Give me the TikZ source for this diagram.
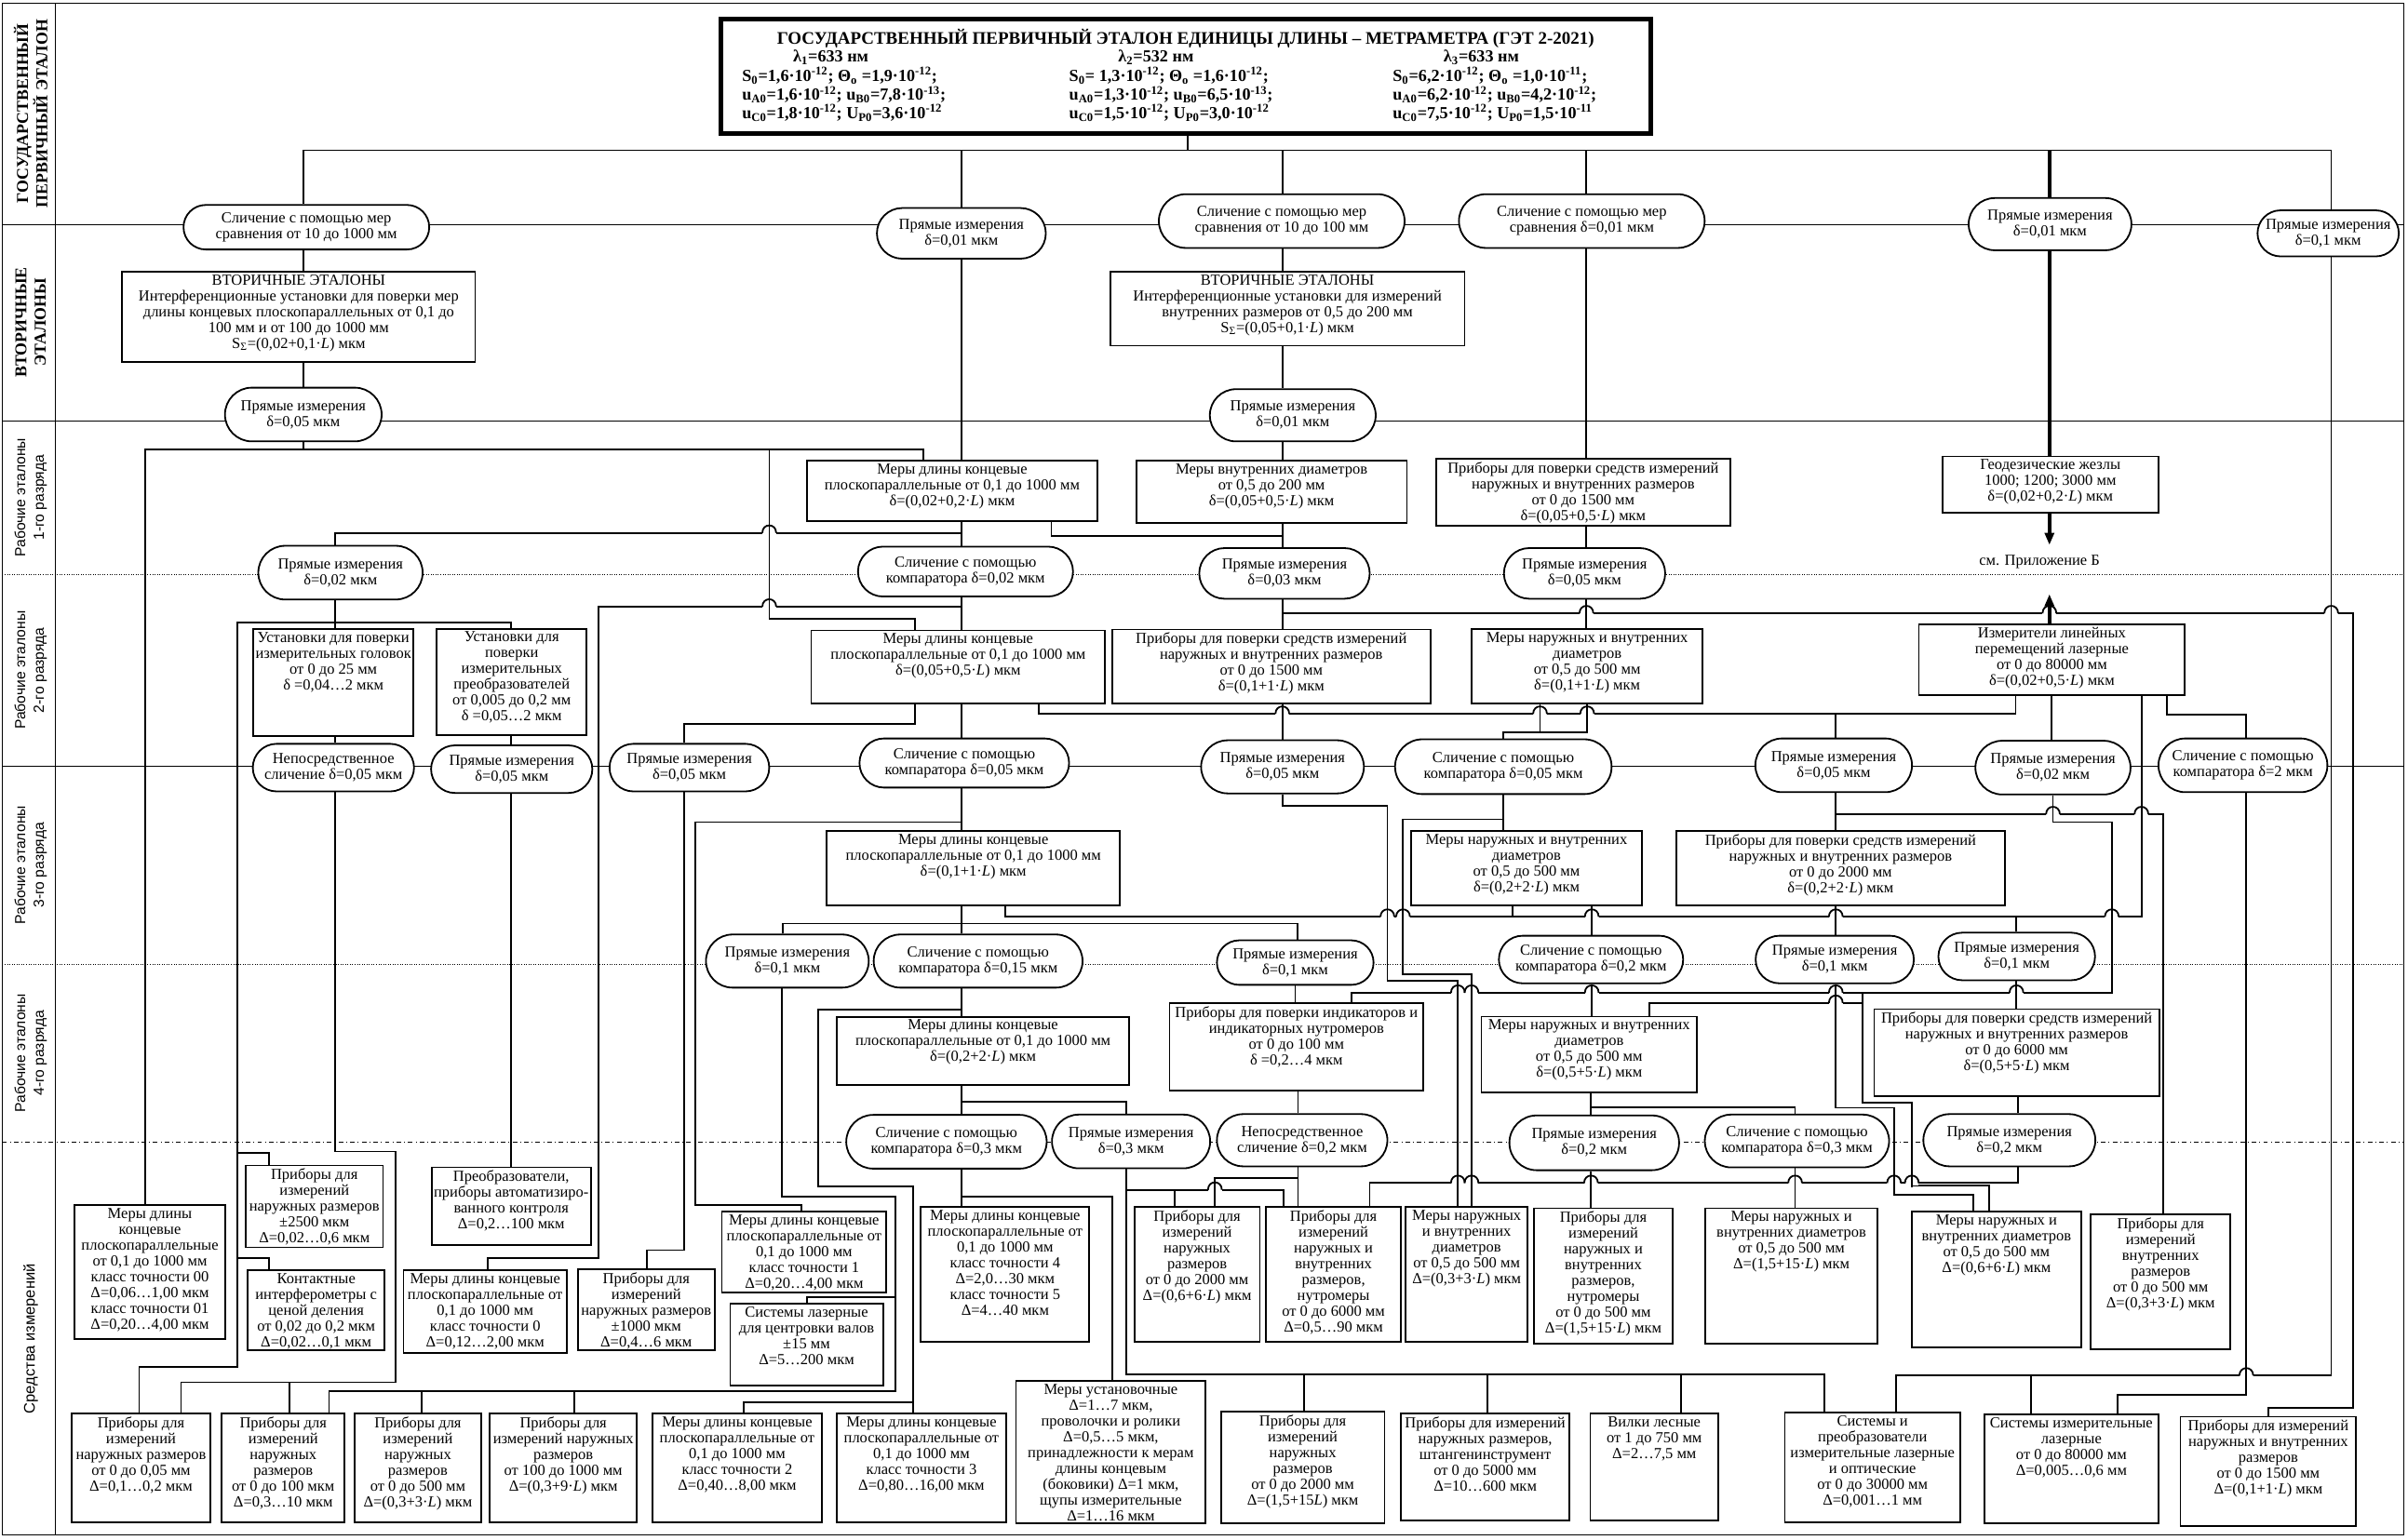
\documentclass[tikz,border=0pt]{standalone}
\usepackage{fontspec}
\setmainfont{Liberation Serif}
\setsansfont{Liberation Sans}
\usetikzlibrary{arrows.meta,shapes.misc,positioning}
\newcommand\fs{\fontsize{10}{10.3}\selectfont}
\newcommand\tp[1]{·10\textsuperscript{#1}}
\newcommand\sbs[1]{\textsubscript{#1}}
\newcommand\iL{\textit{L}}
% box with text on top
\newcommand\bx[6]{%
  \node[box, minimum width=#4pt, minimum height=#5pt] (#1) at (#2,#3) {};
  \node[anchor=north, inner sep=0pt, align=center, font=\fs] (#1-t) at ([yshift=-2.5pt]#1.north) {#6};}
% oval
\newcommand\el[6]{\node[oval, minimum width=#4pt, minimum height=#5pt] (#1) at (#2,#3) {#6};}
% line jump over a crossing
\newcommand\jump[3][conn]{%
  \fill[white] (#2-4.5,#3-1.5) rectangle (#2+4.5,#3+1.5);
  \draw[#1] (#2,#3-2.8) -- (#2,#3+2.8);
  \draw[conn] (#2-4.5,#3) .. controls (#2-4.5,#3-6.5) and (#2+4.5,#3-6.5) .. (#2+4.5,#3);}

\begin{document}
\begin{tikzpicture}[x=1pt,y=-1pt,
  box/.style={draw, line width=1.1pt, fill=white, inner sep=0pt},
  oval/.style={rounded rectangle, draw, line width=1.1pt, fill=white,
    inner sep=0pt, align=center, font=\fs},
  conn/.style={line width=1.1pt},
  thk/.style={line width=2.4pt},
  rowline/.style={line width=0.55pt},
  lbl/.style={rotate=90, align=center}]
  \useasboundingbox (0,0) rectangle (1568,1003);

  % frame and rows
  \draw[line width=0.6pt] (1.5,2) rectangle (1565,1000);
  \draw[line width=0.6pt] (36,2) -- (36,1000);
  \foreach \yy in {146.4,274.3,499} \draw[rowline] (1.5,\yy) -- (1565,\yy);
  \foreach \yy in {374,628} \draw[rowline, densely dotted] (1.5,\yy) -- (1565,\yy);
  \draw[rowline, dash dot] (1.5,744) -- (1565,744);

  \node[lbl, font=\bfseries\fontsize{10.8}{12.5}\selectfont] (L1) at (20,74) {ГОСУДАРСТВЕННЫЙ\\ПЕРВИЧНЫЙ ЭТАЛОН};
  \node[lbl, font=\bfseries\fontsize{10.8}{12.5}\selectfont] (L2) at (20,210) {ВТОРИЧНЫЕ\\ЭТАЛОНЫ};
  \node[lbl, font=\sffamily\fontsize{9.5}{12}\selectfont] (L3) at (20,324) {Рабочие эталоны\\1-го разряда};
  \node[lbl, font=\sffamily\fontsize{9.5}{12}\selectfont] (L4) at (20,436.5) {Рабочие эталоны\\2-го разряда};
  \node[lbl, font=\sffamily\fontsize{9.5}{12}\selectfont] (L5) at (20,563.5) {Рабочие эталоны\\3-го разряда};
  \node[lbl, font=\sffamily\fontsize{9.5}{12}\selectfont] (L6) at (20,686) {Рабочие эталоны\\4-го разряда};
  \node[lbl, font=\sffamily\fontsize{10}{12}\selectfont] (L7) at (20,872) {Средства измерений};

  % state primary standard
  \node[draw, line width=3pt, fill=white, minimum width=605pt, minimum height=74.6pt, inner sep=0pt] (T) at (772.2,49.9) {};
  \begin{scope}[font=\bfseries\fontsize{11}{12}\selectfont]
    \node[anchor=base, font=\bfseries\fontsize{11.5}{12}\selectfont] (T-t) at (772,28.6) {ГОСУДАРСТВЕННЫЙ ПЕРВИЧНЫЙ ЭТАЛОН ЕДИНИЦЫ ДЛИНЫ – МЕТРАМЕТРА (ГЭТ 2-2021)};
    \node[anchor=base] (T-l1) at (541,40.5) {λ\sbs{1}=633 нм};
    \node[anchor=base] (T-l2) at (752.7,40.5) {λ\sbs{2}=532 нм};
    \node[anchor=base] (T-l3) at (964.6,40.5) {λ\sbs{3}=633 нм};
    \node[anchor=base west] (T-a1) at (479.7,53) {S\sbs{0}=1,6\tp{-12}; Θ\sbs{о} =1,9\tp{-12};};
    \node[anchor=base west] (T-b1) at (479.7,65.3) {u\sbs{A0}=1,6\tp{-12}; u\sbs{B0}=7,8\tp{-13};};
    \node[anchor=base west] (T-c1) at (479.7,77.2) {u\sbs{C0}=1,8\tp{-12}; U\sbs{P0}=3,6\tp{-12}};
    \node[anchor=base west] (T-a2) at (692.7,53) {S\sbs{0}= 1,3\tp{-12}; Θ\sbs{о} =1,6\tp{-12};};
    \node[anchor=base west] (T-b2) at (692.7,65.3) {u\sbs{A0}=1,3\tp{-12}; u\sbs{B0}=6,5\tp{-13};};
    \node[anchor=base west] (T-c2) at (692.7,77.2) {u\sbs{C0}=1,5\tp{-12}; U\sbs{P0}=3,0\tp{-12}};
    \node[anchor=base west] (T-a3) at (903.4,53) {S\sbs{0}=6,2\tp{-12}; Θ\sbs{о} =1,0\tp{-11};};
    \node[anchor=base west] (T-b3) at (903.4,65.3) {u\sbs{A0}=6,2\tp{-12}; u\sbs{B0}=4,2\tp{-12};};
    \node[anchor=base west] (T-c3) at (903.4,77.2) {u\sbs{C0}=7,5\tp{-12}; U\sbs{P0}=1,5\tp{-11}};
  \end{scope}

  % ovals
  \el{E1}{199.5}{148}{160}{29}{Сличение с помощью мер\\сравнения от 10 до 1000 мм}
  \el{E2}{626}{152}{110}{33}{Прямые измерения\\δ=0,01 мкм}
  \el{E3}{834.6}{144}{160}{35}{Сличение с помощью мер\\сравнения от 10 до 100 мм}
  \el{E4}{1030}{144}{160}{35}{Сличение с помощью мер\\сравнения δ=0,01 мкм}
  \el{E5}{1334.9}{146}{106}{34}{Прямые измерения\\δ=0,01 мкм}
  \el{E6}{1516}{152}{92}{30}{Прямые измерения\\δ=0,1 мкм}
  \el{E7}{197.5}{270}{102}{35}{Прямые измерения\\δ=0,05 мкм}
  \el{E8}{841.8}{270.5}{108}{34}{Прямые измерения\\δ=0,01 мкм}
  \el{E9}{221.7}{373}{107}{35}{Прямые измерения\\δ=0,02 мкм}
  \el{E10}{628.7}{372.3}{140}{32.5}{Сличение с помощью\\компаратора δ=0,02 мкм}
  \el{E11}{836.4}{373.5}{111}{33}{Прямые  измерения\\δ=0,03 мкм}
  \el{E12}{1031.8}{373.5}{105}{33}{Прямые измерения\\δ=0,05 мкм}
  \el{E13}{217.1}{500}{105}{31}{Непосредственное\\сличение δ=0,05 мкм}
  \el{E14a}{333.2}{501}{105}{31}{Прямые измерения\\δ=0,05 мкм}
  \el{E14b}{448.9}{500}{104}{31}{Прямые измерения\\δ=0,05 мкм}
  \el{E14c}{627.9}{497}{136.5}{32}{Сличение с помощью\\компаратора δ=0,05 мкм}
  \el{E14d}{835.1}{499.5}{106}{34.6}{Прямые измерения\\δ=0,05 мкм}
  \el{E15}{978.9}{499.4}{141}{35.7}{Сличение с помощью\\компаратора δ=0,05 мкм}
  \el{E16}{1194}{498.5}{102}{35}{Прямые измерения\\δ=0,05 мкм}
  \el{E17}{1336.8}{500}{101}{35}{Прямые измерения\\δ=0,02 мкм}
  \el{E18}{1460.5}{498.5}{110}{35}{Сличение с помощью\\компаратора δ=2 мкм}
  \el{E19}{512.7}{626}{106}{34.6}{Прямые измерения\\δ=0,1 мкм}
  \el{E20}{636.9}{626}{136}{34.6}{Сличение с помощью\\компаратора δ=0,15 мкм}
  \el{E21}{843.4}{627}{102}{29}{Прямые измерения\\δ=0,1 мкм}
  \el{E22}{1036}{625}{120}{31}{Сличение с помощью\\компаратора δ=0,2 мкм}
  \el{E23}{1194.7}{625}{103}{31}{Прямые измерения\\δ=0,1 мкм}
  \el{E24}{1313.2}{623}{102}{31}{Прямые измерения\\δ=0,1 мкм}
  \el{E25}{616.3}{743.7}{130.5}{35}{Сличение с помощью\\компаратора δ=0,3 мкм}
  \el{E26}{736.5}{743.5}{103}{35}{Прямые измерения\\δ=0,3 мкм}
  \el{E27}{847.9}{742.7}{111}{34}{Непосредственное\\сличение δ=0,2 мкм}
  \el{E28}{1038.1}{744.4}{110.5}{35.7}{Прямые измерения\\δ=0,2 мкм}
  \el{E29}{1170.1}{743.2}{120}{34.4}{Сличение с помощью\\компаратора δ=0,3 мкм}
  \el{E30}{1308.4}{742.7}{112}{34}{Прямые измерения\\δ=0,2 мкм}

  % standards
  \bx{B1}{194.5}{206.4}{229.8}{59.1}{ВТОРИЧНЫЕ ЭТАЛОНЫ\\Интерференционные установки для поверки мер\\длины концевых плоскопараллельных от 0,1 до\\100 мм и от 100 до 1000 мм\\S\sbs{Σ}=(0,02+0,1·\iL) мкм}
  \bx{B2}{838.3}{201}{230.7}{48.3}{ВТОРИЧНЫЕ ЭТАЛОНЫ\\Интерференционные установки для измерений\\внутренних размеров от 0,5 до 200 мм\\S\sbs{Σ}=(0,05+0,1·\iL) мкм}
  \bx{R1a}{620}{319.6}{188.7}{39.5}{Меры длины концевые\\плоскопараллельные от 0,1 до 1000 мм\\δ=(0,02+0,2·\iL) мкм}
  \bx{R1b}{828}{320.2}{176.2}{40.6}{Меры внутренних диаметров\\от 0,5 до 200 мм\\δ=(0,05+0,5·\iL) мкм}
  \bx{R1c}{1030.9}{320.5}{191.4}{43.5}{Приборы для поверки средств измерений\\наружных и внутренних размеров\\от 0 до 1500 мм\\δ=(0,05+0,5·\iL) мкм}
  \bx{Geo}{1335.1}{315.7}{140.7}{36.8}{Геодезические жезлы\\1000; 1200; 3000 мм\\δ=(0,02+0,2·\iL) мкм}
  \node[font=\fs] (AppB) at (1328,366) {см. Приложение Б};
  \bx{R2a}{217.1}{444.6}{104.1}{69.4}{Установки для поверки\\измерительных головок\\от 0 до 25 мм\\δ =0,04…2 мкм}
  \bx{R2b}{333.2}{444.2}{97.5}{69.4}{Установки для\\поверки\\измерительных\\преобразователей\\от 0,005 до 0,2 мм\\δ =0,05…2 мкм}
  \bx{R2c}{623.9}{434.3}{191.3}{47.4}{Меры длины концевые\\плоскопараллельные от 0,1 до 1000 мм\\δ=(0,05+0,5·\iL) мкм}
  \bx{R2d}{827.8}{434}{207.3}{48}{Приборы для поверки средств измерений\\наружных и внутренних размеров\\от 0 до 1500 мм\\δ=(0,1+1·\iL) мкм}
  \bx{R2e}{1033.5}{434.2}{150.5}{48.5}{Меры наружных и внутренних\\диаметров\\от 0,5 до 500 мм\\δ=(0,1+1·\iL) мкм}
  \bx{R2f}{1336.1}{429.8}{173.3}{46.3}{Измерители линейных\\перемещений лазерные\\от 0 до 80000 мм\\δ=(0,02+0,5·\iL) мкм}
  \bx{R3a}{633.8}{565.5}{190.8}{48.1}{Меры длины концевые\\плоскопараллельные от 0,1 до 1000 мм\\δ=(0,1+1·\iL) мкм}
  \bx{R3b}{994}{565.7}{150.5}{48.5}{Меры наружных и внутренних\\диаметров\\от 0,5 до 500 мм\\δ=(0,2+2·\iL) мкм}
  \bx{R3c}{1198.5}{565.5}{213.9}{48.9}{Приборы для поверки средств измерений\\наружных и внутренних размеров\\от 0 до 2000 мм\\δ=(0,2+2·\iL) мкм}
  \bx{R4a}{640.1}{684.6}{190.6}{44.7}{Меры длины концевые\\плоскопараллельные от 0,1 до 1000 мм\\δ=(0,2+2·\iL) мкм}
  \bx{R4b}{844.2}{681.8}{165.2}{57}{Приборы для поверки индикаторов и\\индикаторных нутромеров\\от 0 до 100 мм\\δ =0,2…4 мкм}
  \bx{R4c}{1034.8}{687}{140.3}{49.6}{Меры наружных и внутренних\\диаметров\\от 0,5 до 500 мм\\δ=(0,5+5·\iL) мкм}
  \bx{R4d}{1313.2}{685.7}{185.6}{56.7}{Приборы для поверки средств измерений\\наружных и внутренних размеров\\от 0 до 6000 мм\\δ=(0,5+5·\iL) мкм}

  % measuring instruments
  \bx{I1}{97.6}{828.5}{98.2}{87.2}{Меры длины\\концевые\\плоскопараллельные\\от 0,1 до 1000 мм\\класс точности 00\\Δ=0,06…1,00 мкм\\класс точности 01\\Δ=0,20…4,00 мкм}
  \bx{I2}{204.7}{785.8}{89.5}{53.4}{Приборы для\\измерений\\наружных размеров\\±2500 мкм\\Δ=0,02…0,6 мкм}
  \bx{I3}{205.9}{853.4}{89.3}{51.9}{Контактные\\интерферометры с\\ценой деления\\от 0,02 до 0,2 мкм\\Δ=0,02…0,1 мкм}
  \bx{I4}{332.9}{785.7}{103.6}{50.6}{Преобразователи,\\приборы автоматизиро-\\ванного контроля\\Δ=0,2…100 мкм}
  \bx{I5}{315.9}{854.4}{106.3}{54}{Меры длины концевые\\плоскопараллельные от\\0,1 до 1000 мм\\класс точности 0\\Δ=0,12…2,00 мкм}
  \bx{I6}{420.8}{853}{88.9}{52.6}{Приборы для\\измерений\\наружных размеров\\±1000 мкм\\Δ=0,4…6 мкм}
  \bx{I7}{523.6}{815.6}{107.2}{52.8}{Меры длины концевые\\плоскопараллельные от\\0,1 до 1000 мм\\класс точности 1\\Δ=0,20…4,00 мкм}
  \bx{I8}{525.2}{875.9}{99.5}{53.4}{Системы лазерные\\для центровки валов\\±15 мм\\Δ=5…200 мкм}
  \bx{I9}{654.5}{829.9}{109.7}{87.8}{Меры длины концевые\\плоскопараллельные от\\0,1 до 1000 мм\\класс точности 4\\Δ=2,0…30 мкм\\класс точности 5\\Δ=4…40 мкм}
  \bx{I10}{779.5}{829.9}{81.8}{87.8}{Приборы для\\измерений\\наружных\\размеров\\от 0 до 2000 мм\\Δ=(0,6+6·\iL) мкм}
  \bx{I11}{868.3}{829.9}{88}{87.8}{Приборы для\\измерений\\наружных и\\внутренних\\размеров,\\нутромеры\\от 0 до 6000 мм\\Δ=0,5…90 мкм}
  \bx{I12}{955}{829.9}{79.4}{87.8}{Меры наружных\\и внутренних\\диаметров\\от 0,5 до 500 мм\\Δ=(0,3+3·\iL) мкм}
  \bx{I13}{1044}{831.2}{90.1}{88.3}{Приборы для\\измерений\\наружных и\\внутренних\\размеров,\\нутромеры\\от 0 до 500 мм\\Δ=(1,5+15·\iL) мкм}
  \bx{I14}{1166.5}{831.2}{112}{88.3}{Меры наружных и\\внутренних диаметров\\от 0,5 до 500 мм\\Δ=(1,5+15·\iL) мкм}
  \bx{I15}{1300}{833.4}{110.1}{88.3}{Меры наружных и\\внутренних диаметров\\от 0,5 до 500 мм\\Δ=(0,6+6·\iL) мкм}
  \bx{I16}{1406.9}{835}{91}{88.1}{Приборы для\\измерений\\внутренних\\размеров\\от 0 до 500 мм\\Δ=(0,3+3·\iL) мкм}
  \bx{J1}{91.8}{956.1}{90.3}{70.8}{Приборы для\\измерений\\наружных размеров\\от 0 до 0,05 мм\\Δ=0,1…0,2 мкм}
  \bx{J2}{184.4}{956.1}{80.1}{70.8}{Приборы для\\измерений\\наружных\\размеров\\от 0 до 100 мкм\\Δ=0,3…10 мкм}
  \bx{J3}{272.1}{956.1}{82.4}{70.8}{Приборы для\\измерений\\наружных\\размеров\\от 0 до 500 мм\\Δ=(0,3+3·\iL) мкм}
  \bx{J4}{366.8}{956.1}{95.8}{70.8}{Приборы для\\измерений наружных\\размеров\\от 100 до 1000 мм\\Δ=(0,3+9·\iL) мкм}
  \bx{J5}{480}{956.1}{110.2}{70.8}{Меры длины концевые\\плоскопараллельные от\\0,1 до 1000 мм\\класс точности 2\\Δ=0,40…8,00 мкм}
  \bx{J6}{600}{956.1}{110.5}{70.8}{Меры длины концевые\\плоскопараллельные от\\0,1 до 1000 мм\\класс точности 3\\Δ=0,80…16,00 мкм}
  \bx{J7}{723.3}{945.8}{123.5}{92.3}{Меры установочные\\Δ=1…7 мкм,\\проволочки  и ролики\\Δ=0,5…5 мкм,\\принадлежности к мерам\\длины концевым\\(боковики) Δ=1 мкм,\\щупы измерительные\\Δ=1…16 мкм}
  \bx{J8}{848.3}{955.7}{106.6}{72.6}{Приборы для\\измерений\\наружных\\размеров\\от 0 до 2000 мм\\Δ=(1,5+15\iL) мкм}
  \bx{J9}{967.1}{955.4}{109.7}{69.7}{Приборы для измерений\\наружных размеров,\\штангенинструмент\\от 0 до 5000 мм\\Δ=10…600 мкм}
  \bx{J10}{1077.2}{955.4}{83.4}{69.7}{Вилки лесные\\от 1 до 750 мм\\Δ=2…7,5 мм}
  \bx{J11}{1219.3}{955.9}{114.1}{71.2}{Системы и\\преобразователи\\измерительные лазерные\\и оптические\\от 0 до 30000 мм\\Δ=0,001…1 мм}
  \bx{J12}{1348.8}{956.7}{113.4}{71.3}{Системы измерительные\\лазерные\\от 0 до 80000 мм\\Δ=0,005…0,6 мм}
  \bx{J13}{1477}{958.5}{114.5}{71.4}{Приборы для измерений\\наружных и внутренних\\размеров\\от 0 до 1500 мм\\Δ=(0,1+1·\iL) мкм}

  % transfer from the primary standard
  \draw[conn] (773.6,0 |- T.south) -- (773.6,97.9);
  \draw[conn] (197.7,0 |- E1.north) |- (1518,97.9) -- (1518,0 |- E6.north);
  \draw[conn] (626,97.9) -- (626,0 |- E2.north);
  \draw[conn] (835,97.9) -- (835,0 |- E3.north);
  \draw[conn] (1033,97.9) -- (1033,0 |- E4.north);
  \draw[thk] (1334.5,97.9) -- (1334.5,0 |- E5.north);

  % secondary standards
  \draw[conn] (197.7,0 |- E1.south) -- (197.7,0 |- B1.north);
  \draw[conn] (197.7,0 |- B1.south) -- (197.7,0 |- E7.north);
  \draw[conn] (835,0 |- E3.south) -- (835,0 |- B2.north);
  \draw[conn] (835,0 |- B2.south) -- (835,0 |- E8.north);
  \draw[conn] (626,0 |- E2.south) -- (626,0 |- R1a.north);
  \draw[conn] (1033,0 |- E4.south) -- (1033,0 |- R1c.north);
  \draw[thk] (1334.5,0 |- E5.south) -- (1334.5,0 |- Geo.north);
  \draw[thk, -{Triangle[length=8pt,width=6pt]}] (1334.5,0 |- Geo.south) -- (1334.5,355);
  \draw[conn] (1518,0 |- E6.south) -- (1518,896) -- (1234.6,896) -- (1234.6,0 |- J11.north);
  \draw[conn] (1322.3,896) -- (1322.3,0 |- J12.north);
  \draw[conn] (197.7,0 |- E7.south) -- (197.7,292.7);
  \draw[conn] (94.4,0 |- I1.north) |- (601.4,292.7) -- (601.4,0 |- R1a.north);
  \draw[conn] (500.9,292.7) -- (500.9,403.3) -- (595.8,403.3) -- (595.8,0 |- R2c.north);

  % 1st grade
  \draw[conn] (626,0 |- R1a.south) -- (626,0 |- E10.north);
  \draw[conn] (218,0 |- E9.north) |- (626,347.1);
  \draw[conn] (684.6,0 |- R1a.south) |- (835,349.3);
  \draw[conn] (835,0 |- E8.south) -- (835,0 |- R1b.north);
  \draw[conn] (835,0 |- R1b.south) -- (835,0 |- E11.north);
  \draw[conn] (1033,0 |- R1c.south) -- (1033,0 |- E12.north);
  \draw[thk, -{Triangle[length=8pt,width=6pt]}] (1334.5,0 |- R2f.north) -- (1334.5,387);

  % 2nd grade
  \draw[conn] (218,0 |- E9.south) -- (218,0 |- R2a.north);
  \draw[conn] (332.9,0 |- R2b.north) |- (154.8,405.5) -- (154.8,890.6) -- (90.6,890.6) -- (90.6,0 |- J1.north);
  \draw[conn] (154.8,751) -- (175.3,751) -- (175.3,0 |- I2.north);
  \draw[conn] (154.8,819.3) -- (175.3,819.3) -- (175.3,0 |- I3.north);
  \draw[conn] (626,0 |- E10.south) -- (626,0 |- R2c.north);
  \draw[conn] (626,395.2) -- (389.5,395.2) -- (389.5,819.3) -- (317.6,819.3) -- (317.6,0 |- I5.north);
  \draw[conn] (835,0 |- E11.south) -- (835,0 |- R2d.north);
  \draw[conn] (835,399.5) -- (1532.4,399.5) -- (1532.4,916.8) -- (1477,916.8) -- (1477,0 |- J13.north);
  \draw[conn] (1033,0 |- E12.south) -- (1033,0 |- R2e.north);
  \draw[conn] (218,0 |- R2a.south) -- (218,0 |- E13.north);
  \draw[conn] (332.9,0 |- R2b.south) -- (332.9,0 |- E14a.north);
  \draw[conn] (626,0 |- R2c.south) -- (626,0 |- E14c.north);
  \draw[conn] (595.8,0 |- R2c.south) |- (445.3,471.6) -- (445.3,0 |- E14b.north);
  \draw[conn] (676.2,0 |- R2c.south) |- (1312.5,465) -- (1312.5,0 |- R2f.south);
  \draw[conn] (1195.4,465) -- (1195.4,0 |- E16.north);
  \draw[conn] (835,0 |- R2d.south) -- (835,0 |- E14d.north);
  \draw[conn] (1002.8,0 |- R2e.south) |- (979,477.1) -- (979,0 |- E15.north);
  \draw[conn] (1033.5,0 |- R2e.south) -- (1033.5,477.1) -- (1002.8,477.1);
  \draw[conn] (1336,0 |- R2f.south) -- (1336,0 |- E17.north);
  \draw[conn] (1411.2,0 |- R2f.south) |- (1462.7,465.7) -- (1462.7,0 |- E18.north);
  \draw[conn] (1394.4,0 |- R2f.south) -- (1394.4,597.2) -- (654.5,597.2) -- (654.5,0 |- R3a.south);
  \draw[conn] (985,0 |- R3b.south) -- (985,597.2);
  \draw[conn] (1313,597.2) -- (1313,0 |- E24.north);

  % 3rd grade
  \draw[conn] (218,0 |- E13.south) -- (218,750) -- (257.7,750) -- (257.7,900.4) -- (117.9,900.4) -- (117.9,0 |- J1.north);
  \draw[conn] (188.3,900.4) -- (188.3,0 |- J2.north);
  \draw[conn] (332.9,0 |- E14a.south) -- (332.9,0 |- I4.north);
  \draw[conn] (445.3,0 |- E14b.south) -- (445.3,814.3) -- (421.1,814.3) -- (421.1,0 |- I6.north);
  \draw[conn] (626,0 |- E14c.south) -- (626,0 |- R3a.north);
  \draw[conn] (626,535.5) -- (453,535.5) -- (453,784.9) -- (521.8,784.9) -- (521.8,0 |- I7.north);
  \draw[conn] (835,0 |- E14d.south) |- (903.4,524.9) -- (903.4,639) -- (949.3,639) -- (949.3,0 |- I12.north);
  \draw[conn] (979,0 |- E15.south) -- (979,0 |- R3b.north);
  \draw[conn] (979,533.7) -- (913.6,533.7) -- (913.6,634.6) -- (958.2,634.6) -- (958.2,0 |- I12.north);
  \draw[conn] (1195,0 |- E16.south) -- (1195,0 |- R3c.north);
  \draw[conn] (1195,530.4) -- (1408.6,530.4) -- (1408.6,0 |- I16.north);
  \draw[conn] (1336.8,0 |- E17.south) |- (1375.1,535.5) -- (1375.1,646.7) -- (879.9,646.7) -- (879.9,0 |- R4b.north);
  \draw[conn] (1212.7,646.7) -- (1212.7,718.4) -- (1244.9,718.4) -- (1244.9,772) -- (1295.2,772) -- (1295.2,0 |- I15.north);
  \draw[conn] (1212.7,653.3) -- (1073.9,653.3) -- (1073.9,0 |- R4c.north);
  \draw[conn] (1462.7,0 |- E18.south) -- (1462.7,908.4) -- (1379,908.4) -- (1379,0 |- J12.north);

  % 4th grade
  \draw[conn] (626,0 |- R3a.south) -- (626,0 |- E20.north);
  \draw[conn] (509.8,0 |- E19.north) |- (844.7,601.6) -- (844.7,0 |- E21.north);
  \draw[conn] (1036.5,0 |- R3b.south) -- (1036.5,0 |- E22.north);
  \draw[conn] (1195.4,0 |- R3c.south) -- (1195.4,0 |- E23.north);
  \draw[conn] (509.1,0 |- E19.south) -- (509.1,779.4) -- (583.1,779.4) -- (583.1,905.9) -- (214.3,905.9) -- (214.3,0 |- J2.north);
  \draw[conn] (274.5,905.9) -- (274.5,0 |- J3.north);
  \draw[conn] (374.2,905.9) -- (374.2,0 |- J4.north);
  \draw[conn] (583.1,844.8) -- (525.7,844.8) -- (525.7,0 |- I8.north);
  \draw[conn] (626,0 |- E20.south) -- (626,0 |- R4a.north);
  \draw[conn] (626,657.8) -- (532.8,657.8) -- (532.8,772.9) -- (594.5,772.9) -- (594.5,913.5) -- (484.3,913.5) -- (484.3,0 |- J5.north);
  \draw[conn] (594.5,913.5) -- (594.5,0 |- J6.north);
  \draw[conn] (843.4,0 |- E21.south) -- (843.4,0 |- R4b.north);
  \draw[conn] (1036.5,0 |- E22.south) -- (1036.5,0 |- R4c.north);
  \draw[conn] (1195.4,0 |- E23.south) -- (1195.4,721.6) -- (1233.3,721.6) -- (1233.3,778) -- (1284.9,778) -- (1284.9,0 |- I15.north);
  \draw[conn] (1313,0 |- E24.south) -- (1313,0 |- R4d.north);

  % to the measuring instruments
  \draw[conn] (626,0 |- R4a.south) -- (626,0 |- E25.north);
  \draw[conn] (626,717.7) -| (733.6,0 |- E26.north);
  \draw[conn] (845.2,0 |- R4b.south) -- (845.2,0 |- E27.north);
  \draw[conn] (1036,0 |- R4c.south) -- (1036,0 |- E28.north);
  \draw[conn] (1036,721.2) -| (1168.9,0 |- E29.north);
  \draw[conn] (1314,0 |- R4d.south) -- (1314,0 |- E30.north);
  \draw[conn] (626,0 |- E25.south) -- (626,0 |- I9.north);
  \draw[conn] (626,779.4) -| (724.2,0 |- J7.north);
  \draw[conn] (733.6,0 |- E26.south) -- (733.6,895) -- (1188.2,895) -- (1188.2,0 |- J11.north);
  \draw[conn] (849,895) -- (849,0 |- J8.north);
  \draw[conn] (968.4,895) -- (968.4,0 |- J9.north);
  \draw[conn] (1094.6,895) -- (1094.6,0 |- J10.north);
  \draw[conn] (733.6,775) -- (835.8,775) -- (835.8,0 |- I11.north);
  \draw[conn] (765,775) -- (765,0 |- I10.north);
  \draw[conn] (845.2,0 |- E27.south) -- (845.2,0 |- I11.north);
  \draw[conn] (845.2,767.4) -- (791.1,767.4) -- (791.1,0 |- I10.north);
  \draw[conn] (1036,0 |- E28.south) -- (1036,0 |- I13.north);
  \draw[conn] (1314,0 |- E30.south) -- (1314,770.6) -- (891.9,770.6) -- (891.9,0 |- I11.north);
  \draw[conn] (1168.9,0 |- E29.south) -- (1168.9,0 |- I14.north);

  % line jumps
  \foreach \jx/\jy in {500.9/347.1, 500.9/395.2, 1033/399.5, 1518/399.5,
      835/465, 1002.8/465, 1033.5/465, 1336.8/530.4, 1394.4/530.4,
      903.4/597.2, 913.6/597.2, 1036.5/597.2, 1195.4/597.2, 1375.1/597.2,
      949.3/646.7, 958.2/646.7, 1036.5/646.7, 1195.4/646.7, 1313/646.7,
      1195.4/653.3, 791.1/775,
      949.3/770.6, 958.2/770.6, 1036/770.6, 1168.9/770.6, 1233.3/770.6, 1244.9/770.6,
      1462.7/896}
    {\jump{\jx}{\jy}}
  \jump[thk]{1334.5}{399.5}
\end{tikzpicture}
\end{document}
